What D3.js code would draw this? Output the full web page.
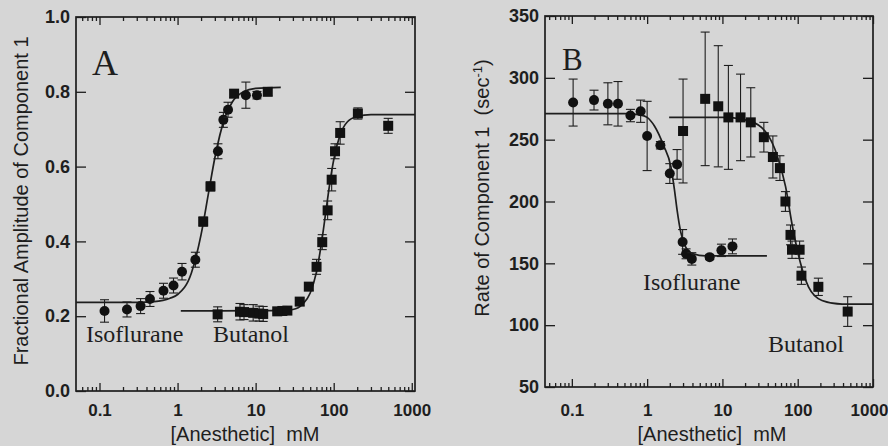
<!DOCTYPE html>
<html>
<head>
<meta charset="utf-8">
<script src="https://cdn.jsdelivr.net/npm/d3@7/dist/d3.min.js"></script>
<style>
  body { margin: 0; background: #d6d6d6; }
  svg { display: block; }
  .tick text { font-family: "Liberation Sans", Arial, sans-serif; font-weight: bold; font-size: 18px; fill: #1e1e1e; }
  .xlab .tick text { font-size: 17px; }
  .tick line { stroke: #1e1e1e; stroke-width: 1.3; }
  .domain { display: none; }
  .frame { fill: none; stroke: #1e1e1e; stroke-width: 1.7; }
  .title { font-family: "Liberation Sans", Arial, sans-serif; font-size: 20px; fill: #1e1e1e; }
  .serif { font-family: "Liberation Serif", "Times New Roman", serif; fill: #1e1e1e; }
  .fit { fill: none; stroke: #1e1e1e; stroke-width: 1.7; }
  .err { stroke: #1e1e1e; stroke-width: 1.1; }
  .mark { fill: #111; }
</style>
</head>
<body>
<div id="chart"></div>
<script>
// ---- data ----
// concentrations in mM; A = fractional amplitude, B = rate (sec^-1)
const xTickValues = [0.1, 1, 10, 100, 1000];
const xTickLabels = ["0.1", "1", "10", "100", "1000"];
const ampTicks = [0, 0.2, 0.4, 0.6, 0.8, 1.0];
const rateTicks = [50, 100, 150, 200, 250, 300, 350];

// Panel A, isoflurane (circles and squares)
const isoAmpCircles = [
  { c: 0.116, v: 0.214, e: 0.03 }, { c: 0.225, v: 0.218, e: 0.02 }, { c: 0.336, v: 0.227, e: 0.02 },
  { c: 0.443, v: 0.246, e: 0.02 }, { c: 0.66, v: 0.268, e: 0.02 }, { c: 0.887, v: 0.282, e: 0.02 },
  { c: 1.14, v: 0.319, e: 0.022 }, { c: 1.69, v: 0.351, e: 0.02 }, { c: 3.29, v: 0.641, e: 0.02 },
  { c: 3.86, v: 0.725, e: 0.02 }, { c: 4.43, v: 0.752, e: 0.02 }, { c: 7.5, v: 0.791, e: 0.035 },
  { c: 10.4, v: 0.791, e: 0.01 }
];
const isoAmpSquares = [
  { c: 2.13, v: 0.453, e: 0.012 }, { c: 2.64, v: 0.547, e: 0.012 },
  { c: 5.3, v: 0.795, e: 0.01 }, { c: 14.3, v: 0.80, e: 0.01 }
];
// Panel A, butanol (squares)
const butAmp = [
  { c: 3.26, v: 0.205, e: 0.02 }, { c: 6.3, v: 0.212, e: 0.022 }, { c: 7.1, v: 0.211, e: 0.02 },
  { c: 9.3, v: 0.209, e: 0.022 }, { c: 11.1, v: 0.207, e: 0.02 }, { c: 12.5, v: 0.206, e: 0.02 },
  { c: 18.9, v: 0.213, e: 0.005 }, { c: 22, v: 0.214, e: 0.005 }, { c: 25.5, v: 0.215, e: 0.005 },
  { c: 36.7, v: 0.239, e: 0.01 }, { c: 48, v: 0.279, e: 0.01 }, { c: 60.3, v: 0.332, e: 0.02 },
  { c: 71.3, v: 0.398, e: 0.02 }, { c: 83.6, v: 0.483, e: 0.025 }, { c: 94.2, v: 0.565, e: 0.03 },
  { c: 104, v: 0.641, e: 0.02 }, { c: 121, v: 0.69, e: 0.03 }, { c: 204, v: 0.742, e: 0.015 },
  { c: 499, v: 0.709, e: 0.02 }
];
// fitted curves, points
const isoAmpFit = [
  [0.05, 0.237], [0.3, 0.237], [0.5, 0.239], [0.8, 0.248], [1, 0.258], [1.5, 0.315], [2, 0.418],
  [2.5, 0.531], [3, 0.623], [4, 0.729], [5, 0.772], [7, 0.8], [10, 0.809], [21, 0.812]
];
const butAmpFit = [
  [1.1, 0.214], [20, 0.215], [30, 0.218], [40, 0.232], [50, 0.262], [60, 0.317], [70, 0.398],
  [80, 0.485], [90, 0.561], [100, 0.618], [120, 0.683], [150, 0.72], [200, 0.734], [300, 0.739], [1100, 0.739]
];

// Panel B, isoflurane (circles)
const isoRate = [
  { c: 0.104, v: 280, e: 19 }, { c: 0.197, v: 282, e: 8 }, { c: 0.301, v: 279, e: 17 },
  { c: 0.41, v: 279, e: 18 }, { c: 0.6, v: 269.5, e: 5 }, { c: 0.82, v: 273, e: 9 },
  { c: 1.0, v: 253, e: 28 }, { c: 1.5, v: 245.5, e: 3 }, { c: 2.0, v: 222.6, e: 8 },
  { c: 2.5, v: 230, e: 12 }, { c: 2.96, v: 167.3, e: 10 }, { c: 3.29, v: 157.7, e: 4 },
  { c: 3.92, v: 153.6, e: 5 }, { c: 6.77, v: 155, e: 2 }, { c: 9.7, v: 160.5, e: 5 },
  { c: 13.6, v: 163.7, e: 6 }
];
// Panel B, butanol (squares)
const butRate = [
  { c: 3.0, v: 257, e: 42 }, { c: 5.9, v: 283, e: 54 }, { c: 8.8, v: 277, e: 49 },
  { c: 12, v: 268, e: 42 }, { c: 17.4, v: 268, e: 35 }, { c: 23.8, v: 264, e: 28 },
  { c: 35.5, v: 252, e: 12 }, { c: 46.8, v: 236, e: 17 }, { c: 58, v: 227, e: 10 },
  { c: 68.7, v: 200, e: 8 }, { c: 80.2, v: 173, e: 8 }, { c: 84, v: 161, e: 7 },
  { c: 106, v: 161, e: 7 }, { c: 112, v: 140, e: 7 }, { c: 188, v: 131, e: 7 },
  { c: 461, v: 111, e: 12 }
];
const isoRateFit = [
  [0.044, 271], [0.5, 271], [0.8, 270], [1.0, 268], [1.25, 261], [1.66, 245], [2.07, 228],
  [2.3, 210], [2.5, 193], [2.8, 175], [3.2, 164], [4, 158], [6, 156], [39, 156]
];
const butRateFit = [
  [1.96, 268], [10, 268], [20, 266], [33, 260], [50, 242], [69, 212], [85, 180],
  [109, 150], [139, 131], [210, 120], [390, 117], [1000, 117]
];

const W = 888, H = 446;
const svg = d3.select("#chart").append("svg").attr("width", W).attr("height", H);

function minorTicks(domain) {
  const out = [];
  for (let p = Math.floor(Math.log10(domain[0])); p <= Math.ceil(Math.log10(domain[1])); p++) {
    for (let m = 2; m <= 9; m++) {
      const v = m * Math.pow(10, p);
      if (v > domain[0] && v < domain[1]) out.push(v);
    }
  }
  return out;
}

function drawPanel(cfg) {
  const x = d3.scaleLog().domain(cfg.xDomain).range([cfg.left, cfg.right]);
  const y = d3.scaleLinear().domain(cfg.yDomain).range([cfg.bottom, cfg.top]);
  const g = svg.append("g");
  const majors = xTickValues.filter(v => v >= cfg.xDomain[0] && v <= cfg.xDomain[1]);
  const minors = minorTicks(cfg.xDomain);

  // bottom axis with labels
  const xl = g.append("g").attr("class", "xlab").attr("transform", `translate(0,${cfg.bottom})`)
    .call(d3.axisBottom(x).tickValues(majors).tickSize(-8).tickPadding(cfg.xPad)
      .tickFormat(d => xTickLabels[xTickValues.indexOf(d)]));
  if (cfg.lastDx) xl.selectAll(".tick text").filter(d => d === 1000).attr("dx", cfg.lastDx);
  g.append("g").attr("transform", `translate(0,${cfg.bottom})`)
    .call(d3.axisBottom(x).tickValues(minors).tickSize(-4).tickFormat(""));
  // top mirror
  g.append("g").attr("transform", `translate(0,${cfg.top})`)
    .call(d3.axisTop(x).tickValues(majors).tickSize(-8).tickFormat(""));
  g.append("g").attr("transform", `translate(0,${cfg.top})`)
    .call(d3.axisTop(x).tickValues(minors).tickSize(-4).tickFormat(""));
  // left / right
  g.append("g").attr("transform", `translate(${cfg.left},0)`)
    .call(d3.axisLeft(y).tickValues(cfg.yTicks).tickSize(-10).tickPadding(6).tickFormat(cfg.yFormat));
  g.append("g").attr("transform", `translate(${cfg.right},0)`)
    .call(d3.axisRight(y).tickValues(cfg.yTicks).tickSize(-10).tickFormat(""));

  g.append("rect").attr("class", "frame")
    .attr("x", cfg.left).attr("y", cfg.top)
    .attr("width", cfg.right - cfg.left).attr("height", cfg.bottom - cfg.top);

  const line = d3.line().x(d => x(d[0])).y(d => y(d[1])).curve(d3.curveMonotoneX);
  cfg.fits.forEach(f => g.append("path").attr("class", "fit").attr("d", line(f)));

  cfg.series.forEach(s => {
    const pts = g.append("g").selectAll("g").data(s.data).join("g");
    pts.append("line").attr("class", "err")
      .attr("x1", d => x(d.c)).attr("x2", d => x(d.c))
      .attr("y1", d => y(d.v - d.e)).attr("y2", d => y(d.v + d.e));
    [-1, 1].forEach(k => pts.append("line").attr("class", "err")
      .attr("x1", d => x(d.c) - 4.5).attr("x2", d => x(d.c) + 4.5)
      .attr("y1", d => y(d.v + k * d.e)).attr("y2", d => y(d.v + k * d.e)));
    if (s.shape === "circle") {
      pts.append("circle").attr("class", "mark")
        .attr("cx", d => x(d.c)).attr("cy", d => y(d.v)).attr("r", 5);
    } else {
      pts.append("rect").attr("class", "mark")
        .attr("x", d => x(d.c) - 5).attr("y", d => y(d.v) - 5)
        .attr("width", 10).attr("height", 10);
    }
  });

  // x title
  g.append("text").attr("class", "title").attr("text-anchor", "middle")
    .attr("x", cfg.xTitleX).attr("y", 441).text("[Anesthetic]\u00a0 mM");
  return { x, y, g };
}

// Panel A
const A = drawPanel({
  left: 76, right: 415, top: 17, bottom: 391,
  xDomain: [0.05, 1100], yDomain: [0, 1], yTicks: ampTicks, yFormat: d3.format(".1f"),
  xPad: 13, xTitleX: 245,
  fits: [isoAmpFit, butAmpFit],
  series: [
    { data: isoAmpCircles, shape: "circle" },
    { data: isoAmpSquares, shape: "square" },
    { data: butAmp, shape: "square" }
  ]
});
A.g.append("text").attr("class", "title").attr("text-anchor", "middle")
  .attr("transform", "translate(28,201) rotate(-90)")
  .text("Fractional Amplitude of Component 1");
A.g.append("text").attr("class", "serif").attr("x", 92).attr("y", 75)
  .style("font-size", "36px").text("A");
A.g.append("text").attr("class", "serif").attr("x", 86).attr("y", 342)
  .style("font-size", "24px").text("Isoflurane");
A.g.append("text").attr("class", "serif").attr("x", 213).attr("y", 342)
  .style("font-size", "24px").text("Butanol");

// Panel B
const B = drawPanel({
  left: 545, right: 873, top: 16, bottom: 387,
  xDomain: [0.044, 1000], yDomain: [50, 350], yTicks: rateTicks, yFormat: d3.format("d"),
  xPad: 17, xTitleX: 712, lastDx: -4,
  fits: [isoRateFit, butRateFit],
  series: [
    { data: isoRate, shape: "circle" },
    { data: butRate, shape: "square" }
  ]
});
const yt = B.g.append("text").attr("class", "title").attr("text-anchor", "middle")
  .attr("transform", "translate(489,188) rotate(-90)");
yt.append("tspan").text("Rate of Component 1\u00a0 (sec");
yt.append("tspan").attr("baseline-shift", "super").style("font-size", "13px").text("-1");
yt.append("tspan").text(")");
B.g.append("text").attr("class", "serif").attr("x", 562).attr("y", 70)
  .style("font-size", "31px").text("B");
B.g.append("text").attr("class", "serif").attr("x", 643).attr("y", 290)
  .style("font-size", "24px").text("Isoflurane");
B.g.append("text").attr("class", "serif").attr("x", 768).attr("y", 352)
  .style("font-size", "24px").text("Butanol");
</script>
</body>
</html>
